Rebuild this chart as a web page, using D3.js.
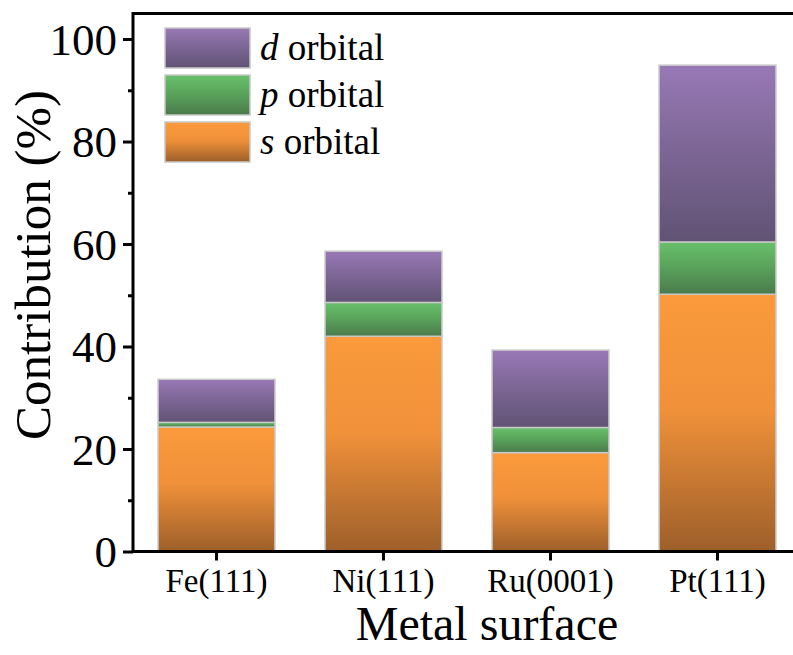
<!DOCTYPE html>
<html><head><meta charset="utf-8">
<script src="https://cdn.jsdelivr.net/npm/d3@7"></script>
<style>body{margin:0;background:#fff;}svg{display:block;} svg text{font-family:"Liberation Serif","Times New Roman",serif !important;}</style>
</head><body>
<script>
const categories = ["Fe(111)", "Ni(111)", "Ru(0001)", "Pt(111)"];
const sOrbital = [24.3, 42.0, 19.3, 50.2];
const pOrbital = [0.9, 6.6, 4.9, 10.2];
const dOrbital = [8.4, 10.0, 15.1, 34.5];
const yTicks = [0, 20, 40, 60, 80, 100];
const yMinorTicks = [10, 30, 50, 70, 90];
const seriesNames = ["s", "p", "d"];
const legendOrder = ["d", "p", "s"];

const W = 793, H = 655;
const svg = d3.select("body").append("svg").attr("width", W).attr("height", H);
svg.append("rect").attr("width", W).attr("height", H).attr("fill", "#fff");

const left = 133, bottom = 551.5;
const x = d3.scaleBand().domain(categories).range([left, 801]).paddingInner(0.3).paddingOuter(0.15);
const y = d3.scaleLinear().domain([0, 105]).range([bottom, 13.4]);

const grads = {
  s: ["#fa9a3c", "#f0913a", "#9d5f2a"],
  p: ["#68c06a", "#5aa55c", "#4a7a4b"],
  d: ["#9879b6", "#7e6797", "#615374"]
};
const defs = svg.append("defs");
Object.entries(grads).forEach(([k, c]) => {
  const g = defs.append("linearGradient").attr("id", "g-" + k)
    .attr("x1", 0).attr("y1", 0).attr("x2", 0).attr("y2", 1);
  g.append("stop").attr("offset", "0%").attr("stop-color", c[0]);
  g.append("stop").attr("offset", "45%").attr("stop-color", c[1]);
  g.append("stop").attr("offset", "100%").attr("stop-color", c[2]);
});

const rows = categories.map((c, i) => ({cat: c, s: sOrbital[i], p: pOrbital[i], d: dOrbital[i]}));
const stack = d3.stack().keys(seriesNames)(rows);

svg.append("g").selectAll("g").data(stack).join("g")
  .attr("fill", d => `url(#g-${d.key})`)
  .selectAll("rect").data(d => d).join("rect")
  .attr("x", d => x(d.data.cat))
  .attr("width", x.bandwidth())
  .attr("y", d => y(d[1]))
  .attr("height", d => y(d[0]) - y(d[1]))
  .attr("stroke", "#c8c8c8").attr("stroke-width", 1.5);

// axes
const yAxis = d3.axisLeft(y).tickValues(yTicks).tickSize(10).tickPadding(6).tickFormat(d3.format("d"));
const gy = svg.append("g").attr("transform", `translate(${left},0)`).call(yAxis);
gy.select(".domain").remove();
gy.selectAll(".tick line").attr("stroke", "#000").attr("stroke-width", 3);
gy.selectAll(".tick text").style("font-size", "45px").attr("fill", "#000").attr("dy", "0.34em");
const yMinor = d3.axisLeft(y).tickValues(yMinorTicks).tickSize(5).tickFormat("");
const gym = svg.append("g").attr("transform", `translate(${left},0)`).call(yMinor);
gym.select(".domain").remove();
gym.selectAll(".tick line").attr("stroke", "#000").attr("stroke-width", 3);

const xAxis = d3.axisBottom(x).tickSize(9).tickPadding(8);
const gx = svg.append("g").attr("transform", `translate(0,${bottom})`).call(xAxis);
gx.select(".domain").remove();
gx.selectAll(".tick line").attr("stroke", "#000").attr("stroke-width", 3);
gx.selectAll(".tick text").style("font-size", "33px").attr("fill", "#000");

// frame lines
svg.append("line").attr("x1", left).attr("x2", W + 5).attr("y1", bottom).attr("y2", bottom).attr("stroke", "#000").attr("stroke-width", 3);
svg.append("line").attr("x1", left).attr("x2", W + 5).attr("y1", y(105)).attr("y2", y(105)).attr("stroke", "#000").attr("stroke-width", 3);
svg.append("line").attr("x1", left).attr("x2", left).attr("y1", y(105) - 1.5).attr("y2", bottom + 1.5).attr("stroke", "#000").attr("stroke-width", 3);

// titles
svg.append("text").attr("transform", "translate(50,265) rotate(-90)").attr("text-anchor", "middle")
  .style("font-size", "51px").text("Contribution (%)");
svg.append("text").attr("x", 487).attr("y", 640).attr("text-anchor", "middle")
  .style("font-size", "48px").text("Metal surface");

// legend
const lg = svg.append("g");
legendOrder.forEach((k, i) => {
  const yy = 28 + i * 47;
  lg.append("rect").attr("x", 165).attr("y", yy).attr("width", 85).attr("height", 40)
    .attr("fill", `url(#g-${k})`).attr("stroke", "#c8c8c8").attr("stroke-width", 1.5);
  const t = lg.append("text").attr("x", 260).attr("y", yy + 32).style("font-size", "37px");
  t.append("tspan").attr("font-style", "italic").text(k);
  t.append("tspan").text(" orbital");
});
</script>
</body></html>
